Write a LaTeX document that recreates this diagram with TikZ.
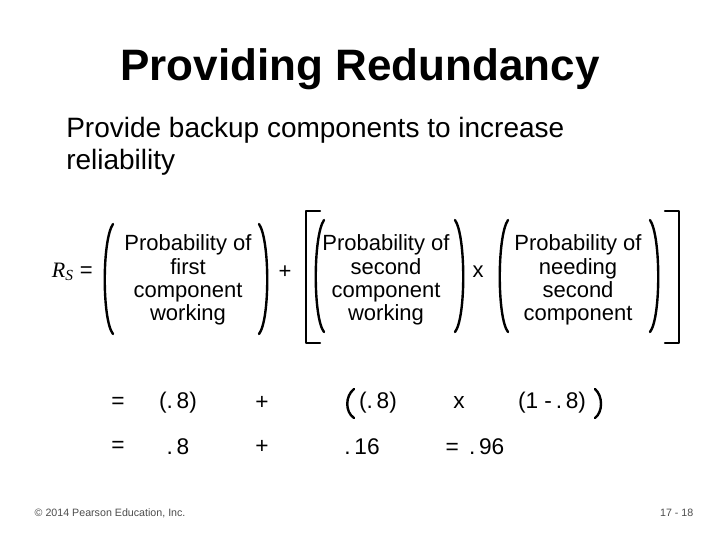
\documentclass[tikz,border=0pt]{standalone}
\usepackage{fontspec}
\setmainfont{Liberation Sans}
\newfontfamily\serifx{Liberation Serif}
\begin{document}
\begin{tikzpicture}[x=0.75pt,y=-0.75pt,
  br/.style={line width=1.8pt,line cap=round,line join=round},
  t/.style={font=\fontsize{16.5}{17.5}\selectfont,align=center,inner sep=0},
  r/.style={font=\fontsize{17}{18}\selectfont,inner sep=0}]
\useasboundingbox (0,0) rectangle (720,540);
\node[font=\bfseries\fontsize{33}{36}\selectfont] (title) at (360,69) {Providing Redundancy};
\node[font=\fontsize{21}{24}\selectfont,align=left,anchor=north west,inner sep=0] (sub) at (66,117) {Provide backup components to increase\\reliability};
\node[t,anchor=east] (rs) at (93,272) {{\serifx\itshape R}\textsubscript{\serifx\itshape S} =};
\node[t] (g1) at (188,280) {Probability of\\first\\component\\working};
\node[t] (p1) at (285,272) {+};
\node[t] (g2) at (386,280) {Probability of\\second\\component\\working};
\node[t] (x1) at (478,272) {x};
\node[t] (g3) at (578,280) {Probability of\\needing\\second\\component};
% parens group 1
\draw[br] (113,224) .. controls (102,240) and (102,320) .. (113,334);
\draw[br] (259,224) .. controls (270,240) and (270,320) .. (259,334);
% big square bracket
\draw[br] (320,211) -- (306,211) -- (306,343) -- (320,343);
\draw[br] (665,211) -- (679,211) -- (679,343) -- (665,343);
% parens group 2
\draw[br] (324,220) .. controls (313,236) and (313,318) .. (324,332);
\draw[br] (455,220) .. controls (466,236) and (466,318) .. (455,332);
% parens group 3
\draw[br] (508,220) .. controls (497,236) and (497,318) .. (508,332);
\draw[br] (650,220) .. controls (661,236) and (661,318) .. (650,332);
% rows
\node[r] (e1) at (118,403) {=};
\node[r] (a1) at (178,403) {(.\,8)};
\node[r] (pl1) at (262,403) {+};
\node[r] (b1) at (378,403) {(.\,8)};
\node[r] (x2) at (459,403) {x};
\node[r] (c1) at (552,403) {(1 -\,.\,8)};
\draw[br] (354,389) .. controls (345,396) and (345,412) .. (354,418);
\draw[br] (595,389) .. controls (603,396) and (603,412) .. (595,418);
\node[r] (e2) at (118,447) {=};
\node[r] (a2) at (178,447) {.\,8};
\node[r] (pl2) at (262,447) {+};
\node[r] (b2) at (362,447) {.\,16};
\node[r] (res) at (475,447) {=\, .\,96};
\node[font=\fontsize{8}{9}\selectfont,anchor=west,text=black!70] (cp) at (30,513) {© 2014 Pearson Education, Inc.};
\node[font=\fontsize{8}{9}\selectfont,anchor=east,text=black!70] (pg) at (698,513) {17 - 18};
\end{tikzpicture}
\end{document}
